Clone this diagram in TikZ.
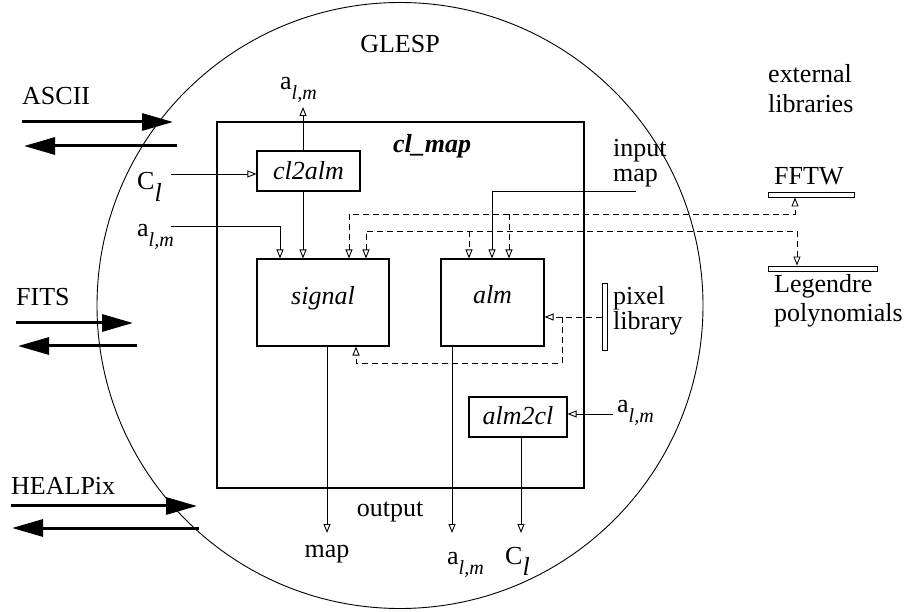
\documentclass[tikz,border=0pt]{standalone}
\usepackage{fontspec}
\setmainfont{Liberation Serif}
\usetikzlibrary{arrows.meta}
\newcommand\almsym{a\raisebox{-10pt}{\fontsize{20}{20}\selectfont\itshape l,m}}
\newcommand\clsym{C\raisebox{-12pt}{\itshape l}}
\begin{document}
\begin{tikzpicture}[x=1pt,y=-1pt,
  font=\fontsize{26}{30}\selectfont,
  >={Triangle[open,length=9pt,width=7pt]},
  conn/.style={line width=0.9pt},
  dsh/.style={conn,dash pattern=on 6pt off 4pt},
  box/.style={draw,line width=1.1pt,inner sep=0pt},
  bar/.style={draw,line width=0.9pt,inner sep=0pt},
  lbl/.style={inner sep=0pt,anchor=base west},
  clbl/.style={inner sep=0pt,anchor=base},
  big/.style={line width=3pt,-{Triangle[length=31pt,width=17pt]}}]
\useasboundingbox (0,0) rectangle (914,612);

% GLESP circle and the cl_map box
\node[draw,circle,minimum size=606pt,inner sep=0pt,line width=0.9pt] (glesp) at (400,305.5) {};
\node[box,minimum width=367pt,minimum height=366pt] (clmap) at (400.5,305) {};
\node[clbl] (glesplbl) at (400,53) {GLESP};
\node[clbl] (clmaplbl) at (432,153) {\bfseries\itshape cl\_map};

% inner boxes
\node[box,minimum width=103pt,minimum height=40pt] (cl2alm) at (308.5,171) {};
\node[clbl] (cl2almtxt) at (308.5,180) {\itshape cl2alm};
\node[box,minimum width=132pt,minimum height=87pt] (signal) at (323,302.5) {};
\node[clbl] (signaltxt) at (323,305) {\itshape signal};
\node[box,minimum width=103pt,minimum height=87pt] (alm) at (492.5,302.5) {};
\node[clbl] (almtxt) at (492.5,304) {\itshape alm};
\node[box,minimum width=98pt,minimum height=40pt] (alm2cl) at (518,417) {};
\node[clbl] (alm2cltxt) at (518,425) {\itshape alm2cl};

% library bars
\node[bar,minimum width=86pt,minimum height=5pt] (fftw) at (811,194.5) {};
\node[bar,minimum width=109pt,minimum height=5pt] (legendre) at (822.5,268.5) {};
\node[bar,minimum width=5pt,minimum height=67pt] (pixbar) at (604.5,316.5) {};

% labels
\node[lbl] (extlbl1) at (768,83) {external};
\node[lbl] (extlbl2) at (768,113) {libraries};
\node[lbl] (fftwlbl) at (774,185) {FFTW};
\node[lbl] (leglbl1) at (774,293) {Legendre};
\node[lbl] (leglbl2) at (774,322) {polynomials};
\node[lbl] (pixlbl1) at (613,305) {pixel};
\node[lbl] (pixlbl2) at (613,330) {library};
\node[lbl] (inlbl1) at (613,157) {input};
\node[lbl] (inlbl2) at (613,182) {map};
\node[lbl] (asciilbl) at (22,105) {ASCII};
\node[lbl] (fitslbl) at (16,306) {FITS};
\node[lbl] (heallbl) at (11,495) {HEALPix};
\node[lbl] (almtoplbl) at (280,90) {\almsym};
\node[lbl] (cllbl) at (137,190) {\clsym};
\node[lbl] (almleftlbl) at (137,237) {\almsym};
\node[lbl] (almrightlbl) at (617,413) {\almsym};
\node[clbl] (outlbl) at (390,517) {output};
\node[clbl] (maplbl) at (327,557) {map};
\node[lbl] (almbotlbl) at (447,564) {\almsym};
\node[lbl] (clbotlbl) at (505,564) {\clsym};

% free ends and bends
\coordinate (almtopc) at (303,107);
\coordinate (clin) at (171,174);
\coordinate (almin) at (171,226);
\coordinate (almbend) at (280,226);
\coordinate (mapin) at (636,191);
\coordinate (mapbend) at (492,191);
\coordinate (fftwrow) at (349,214);
\coordinate (fftwend) at (795,214);
\coordinate (fftwbr) at (509,214);
\coordinate (legrow) at (366,231);
\coordinate (legend) at (797,231);
\coordinate (legbr) at (469,231);
\coordinate (pixjoin) at (562,317);
\coordinate (pixlow) at (562,363);
\coordinate (sigret) at (356,363);
\coordinate (mapout) at (327,533);
\coordinate (almout) at (452,533);
\coordinate (clout) at (521,533);
\coordinate (alm2in) at (613,414);

% solid connectors
\draw[conn,->] (cl2alm.north -| almtopc) -- (almtopc);
\draw[conn,->] (clin) -- (clin -| cl2alm.west);
\draw[conn,->] (almin) -- (almbend) -- (almbend |- signal.north);
\draw[conn,->] (cl2alm.south -| almtopc) -- (almtopc |- signal.north);
\draw[conn,->] (mapin) -- (mapbend) -- (mapbend |- alm.north);
\draw[conn,->] (signal.south -| mapout) -- (mapout);
\draw[conn,->] (alm.south -| almout) -- (almout);
\draw[conn,->] (alm2in) -- (alm2in -| alm2cl.east);
\draw[conn,->] (alm2cl.south -| clout) -- (clout);

% dashed library connectors
\draw[dsh,<->] (fftwrow |- signal.north) -- (fftwrow) -- (fftwend) -- (fftwend |- fftw.south);
\draw[dsh,->] (fftwbr) -- (fftwbr |- alm.north);
\draw[dsh,<->] (legrow |- signal.north) -- (legrow) -- (legend) -- (legend |- legendre.north);
\draw[dsh,->] (legbr) -- (legbr |- alm.north);
\draw[dsh,->] (pixjoin -| pixbar.west) -- (pixjoin -| alm.east);
\draw[dsh,->] (pixjoin) -- (pixlow) -- (sigret) -- (sigret |- signal.south);

% thick format arrows
\coordinate (asciiA) at (22,122);  \coordinate (asciiB) at (173,122);
\coordinate (asciiC) at (177,146); \coordinate (asciiD) at (24,146);
\coordinate (fitsA) at (16,323);   \coordinate (fitsB) at (133,323);
\coordinate (fitsC) at (137,346);  \coordinate (fitsD) at (18,346);
\coordinate (healA) at (11,506);   \coordinate (healB) at (197,506);
\coordinate (healC) at (199,528);  \coordinate (healD) at (12,528);
\draw[big] (asciiA) -- (asciiB);
\draw[big] (asciiC) -- (asciiD);
\draw[big] (fitsA) -- (fitsB);
\draw[big] (fitsC) -- (fitsD);
\draw[big] (healA) -- (healB);
\draw[big] (healC) -- (healD);
\end{tikzpicture}
\end{document}
